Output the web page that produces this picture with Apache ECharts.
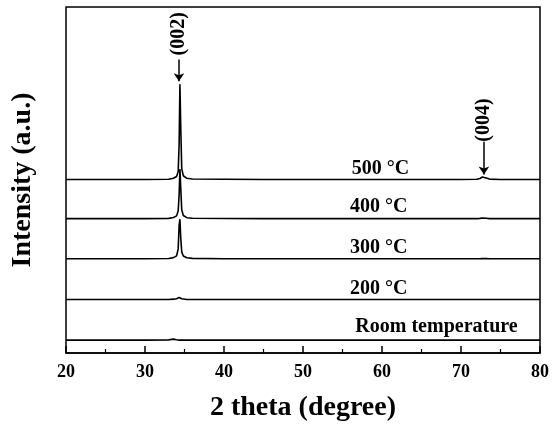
<!DOCTYPE html>
<html><head><meta charset="utf-8">
<script src="https://cdn.jsdelivr.net/npm/echarts@6/dist/echarts.min.js"></script>
<style>html,body{margin:0;padding:0;background:#fff}#c{width:556px;height:427px}</style>
</head><body><div id="c"></div><script>
// 2θ sample positions (degree)
const twoTheta = [20, 25, 30, 33, 33.6, 34.0, 34.2, 34.32, 34.42, 34.52, 34.65, 34.85, 35.3, 36, 40, 45, 50, 55, 60, 65, 70, 72, 72.4, 72.7, 72.9, 73.2, 73.6, 75, 80];
const xTicks = [20, 30, 40, 50, 60, 70, 80];
const sampleNames = ['Room temperature', '200 °C', '300 °C', '400 °C', '500 °C'];
// vertical offset of each pattern (a.u.)
const baselineOffset = [13, 54, 95, 135.5, 175];
// intensities above each baseline (a.u.)
const intRT  = [0, 0, 0, 0.2, 1, 0.3, 0, 0, 0, 0, 0, 0, 0, 0, 0, 0, 0, 0, 0, 0, 0, 0, 0, 0, 0, 0, 0, 0, 0];
const int200 = [0, 0, 0, 0, 0.3, 0.8, 1.5, 2, 2, 1.5, 0.8, 0.3, 0, 0, 0, 0, 0, 0, 0, 0, 0, 0, 0, 0, 0, 0, 0, 0, 0];
const int300 = [0, 0, 0, 0.3, 1.2, 3, 10, 34, 40, 22, 7, 2.8, 1, 0.4, 0.1, 0, 0, 0, 0, 0, 0, 0, 0, 0.3, 0.4, 0.2, 0, 0, 0];
const int400 = [0, 0, 0, 0.3, 1.2, 2.8, 8, 24, 50, 32, 9, 3.2, 1, 0.4, 0.2, 0, 0, 0, 0, 0, 0, 0, 0.3, 0.6, 0.8, 0.4, 0, 0, 0];
const int500 = [0, 0, 0, 0.3, 1.2, 3, 8, 35, 96, 55, 11, 3.8, 1.2, 0.5, 0.2, 0, 0, 0, 0, 0, 0, 0.2, 1, 2.5, 3, 1.5, 0.4, 0, 0];
const intensities = [intRT, int200, int300, int400, int500];

const FONT = "'Liberation Serif','Times New Roman',serif";
const chart = echarts.init(document.getElementById('c'));

const lbl = (txt, x, y, size, rot) => ({
  coord: [x, y], value: txt,
  label: {show: true, formatter: txt, color: '#000', fontFamily: FONT, fontWeight: 'bold', fontSize: size, rotate: rot || 0, position: 'inside'}
});

const series = intensities.map((arr, k) => ({
  name: sampleNames[k],
  type: 'line',
  showSymbol: false,
  symbol: 'none',
  animation: false,
  lineStyle: {color: '#000', width: 1.6},
  data: twoTheta.map((x, i) => [x, baselineOffset[k] + arr[i]])
}));

series[4].markPoint = {
  symbol: 'circle', symbolSize: 1, itemStyle: {color: 'rgba(0,0,0,0)'},
  animation: false,
  data: [
    lbl('500 °C', 59.8, 186, 20),
    lbl('400 °C', 59.6, 147, 20),
    lbl('300 °C', 59.6, 106, 20),
    lbl('200 °C', 59.6, 65, 20),
    lbl('Room temperature', 66.9, 26, 20),
    lbl('(002)', 34.3, 322, 20, 90),
    lbl('(004)', 72.9, 235, 20, 90)
  ]
};
series[4].markLine = {
  symbol: ['none', 'arrow'], symbolSize: 8, silent: true, animation: false,
  label: {show: false},
  lineStyle: {color: '#000', width: 1.5, type: 'solid'},
  data: [
    [{coord: [34.3, 296]}, {coord: [34.3, 274]}],
    [{coord: [72.9, 213]}, {coord: [72.9, 180]}]
  ]
};

chart.setOption({
  animation: false,
  backgroundColor: '#fff',
  grid: {show: true, left: 66, right: 16, top: 7, bottom: 71, borderColor: '#000', borderWidth: 1.5, backgroundColor: 'transparent'},
  xAxis: {
    type: 'value', min: 20, max: 80, interval: 10,
    name: '2 theta (degree)', nameLocation: 'middle', nameGap: 41,
    nameTextStyle: {color: '#000', fontFamily: FONT, fontWeight: 'bold', fontSize: 28},
    axisLine: {show: true, lineStyle: {color: '#000', width: 1.5}},
    axisTick: {show: true, inside: true, length: 7, lineStyle: {color: '#000', width: 1.5}},
    minorTick: {show: true, splitNumber: 2, length: 4, lineStyle: {color: '#000', width: 1.2}},
    axisLabel: {color: '#000', fontFamily: FONT, fontWeight: 'bold', fontSize: 18, margin: 10,
      formatter: v => xTicks.includes(v) ? String(v) : ''},
    splitLine: {show: false}
  },
  yAxis: {
    type: 'value', min: 0, max: 349,
    name: 'Intensity (a.u.)', nameLocation: 'middle', nameGap: 29,
    nameTextStyle: {color: '#000', fontFamily: FONT, fontWeight: 'bold', fontSize: 28},
    axisLine: {show: false}, axisTick: {show: false}, axisLabel: {show: false}, splitLine: {show: false}
  },
  series: series
});
</script></body></html>
